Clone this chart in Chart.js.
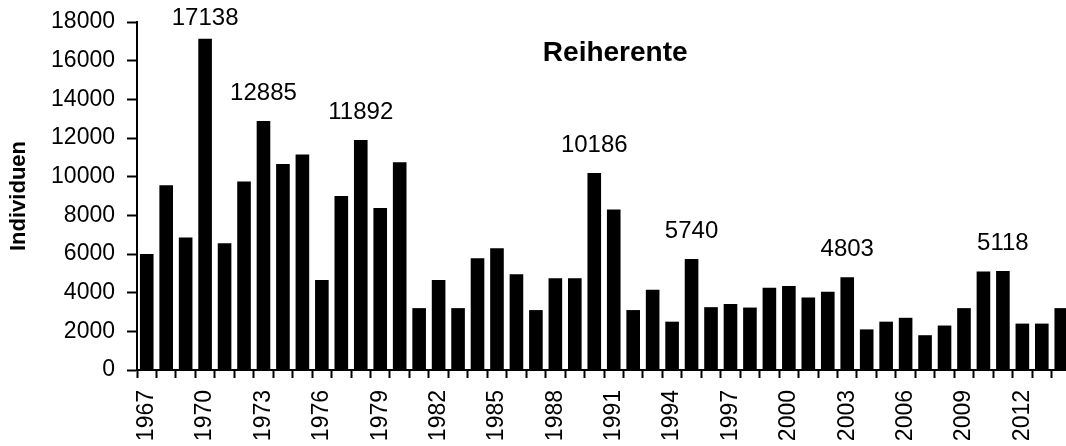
<!DOCTYPE html>
<html>
<head>
<meta charset="utf-8">
<script src="https://cdn.jsdelivr.net/npm/chart.js@4/dist/chart.umd.min.js"></script>
<style>
  html, body { margin: 0; padding: 0; background: #fff; overflow: hidden; }
  #wrap { width: 1071px; height: 446px; }
</style>
</head>
<body>
<div id="wrap"><canvas id="chart" width="1071" height="446"></canvas></div>
<script>
// Reiherente counts per year
var years = [];
for (var y = 1967; y <= 2014; y++) years.push(String(y));

var counts = [
  6000, 9550, 6850, 17138, 6550, 9750, 12885, 10650, 11150, 4650,
  9000, 11892, 8380, 10750, 3200, 4650, 3200, 5780, 6300, 4950,
  3100, 4750, 4750, 10186, 8300, 3100, 4150, 2500, 5740, 3250,
  3420, 3230, 4250, 4350, 3750, 4050, 4803, 2100, 2500, 2700,
  1800, 2300, 3200, 5100, 5118, 2400, 2400, 3200
];

// years that get their value written over the bar
var labelledYears = ['1970', '1973', '1978', '1990', '1995', '2003', '2011'];

var yTicks = [0, 2000, 4000, 6000, 8000, 10000, 12000, 14000, 16000, 18000];

var chartTitle = 'Reiherente';
var yTitle = 'Individuen';

var FONT = "'Liberation Sans', Arial, sans-serif";

var titlePlugin = {
  id: 'innerTitle',
  afterDraw: function(chart) {
    var ctx = chart.ctx;
    var a = chart.chartArea;
    ctx.save();
    ctx.font = 'bold 28px ' + FONT;
    ctx.fillStyle = '#000';
    ctx.textAlign = 'center';
    ctx.textBaseline = 'middle';
    ctx.fillText(chartTitle, a.left + (a.right - a.left) * 0.512, a.top + 31);
    ctx.restore();
  }
};

var valueLabels = {
  id: 'valueLabels',
  afterDatasetsDraw: function(chart) {
    var ctx = chart.ctx;
    var meta = chart.getDatasetMeta(0);
    ctx.save();
    ctx.font = '24px ' + FONT;
    ctx.fillStyle = '#000';
    ctx.textAlign = 'center';
    ctx.textBaseline = 'bottom';
    meta.data.forEach(function(bar, i) {
      if (labelledYears.indexOf(years[i]) < 0) return;
      var ty = Math.max(bar.y - 16, chart.chartArea.top + 8);
      ctx.fillText(String(counts[i]), bar.x, ty);
    });
    ctx.restore();
  }
};

new Chart(document.getElementById('chart').getContext('2d'), {
  type: 'bar',
  data: {
    labels: years,
    datasets: [{
      data: counts,
      backgroundColor: '#000',
      borderWidth: 0,
      barPercentage: 0.7,
      categoryPercentage: 1.0
    }]
  },
  options: {
    responsive: false,
    animation: false,
    layout: { padding: { left: 0, right: 0, top: 22, bottom: 0 } },
    plugins: {
      legend: { display: false },
      tooltip: { enabled: false }
    },
    scales: {
      x: {
        grid: {
          display: true,
          drawOnChartArea: false,
          drawTicks: true,
          tickLength: 8,
          tickWidth: 2,
          color: '#000',
          offset: true
        },
        border: { color: '#000', width: 2 },
        ticks: {
          autoSkip: false,
          maxRotation: 90,
          minRotation: 90,
          padding: 12,
          color: '#000',
          font: { family: FONT, size: 23 },
          callback: function(v, i) { return i % 3 === 0 ? years[i] : ''; }
        },
        afterFit: function(scale) {
          scale.height = 76;
          scale.paddingLeft = 0;
          scale.paddingRight = 0;
        }
      },
      y: {
        min: 0,
        max: 18000,
        afterBuildTicks: function(scale) {
          scale.ticks = yTicks.map(function(v) { return { value: v }; });
        },
        grid: {
          display: true,
          drawOnChartArea: false,
          drawTicks: true,
          tickLength: 10,
          tickWidth: 2,
          color: '#000'
        },
        border: { color: '#000', width: 2 },
        ticks: {
          padding: 12,
          color: '#000',
          font: { family: FONT, size: 23 },
          callback: function(v) { return String(v); }
        },
        title: {
          display: true,
          text: yTitle,
          color: '#000',
          font: { family: FONT, size: 22, weight: 'bold' },
          padding: { top: 6, bottom: 0 }
        },
        afterFit: function(scale) {
          scale.width = 137;
          scale.paddingTop = 0;
          scale.paddingBottom = 0;
        }
      }
    }
  },
  plugins: [titlePlugin, valueLabels]
});
</script>
</body>
</html>
